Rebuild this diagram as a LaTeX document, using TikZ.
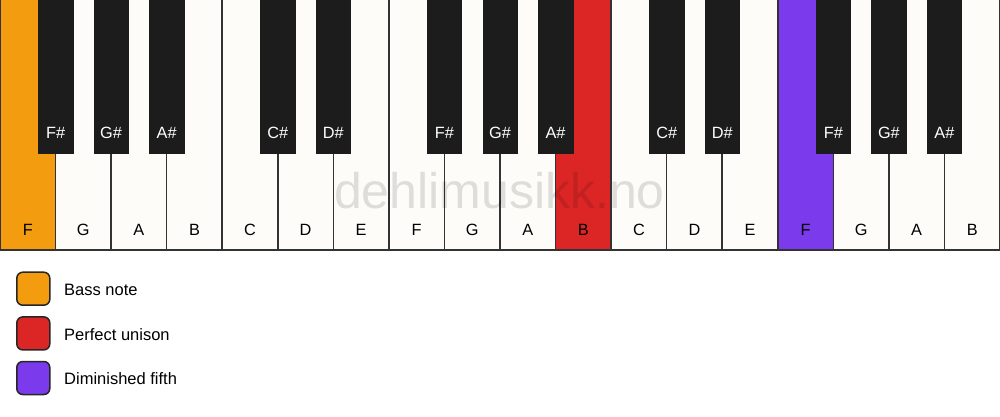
\documentclass[tikz,border=0pt]{standalone}
\usepackage{fontspec}
\setmainfont{Liberation Sans}
\definecolor{keyborder}{HTML}{333333}
\definecolor{whitekey}{HTML}{FDFCF9}
\definecolor{blackkey}{HTML}{1C1C1C}
\definecolor{bassc}{HTML}{F39C0F}
\definecolor{unisonc}{HTML}{DC2626}
\definecolor{fifthc}{HTML}{7C3AED}
\tikzset{
  wkey/.style={draw=keyborder, line width=1.5pt, fill=whitekey},
  bkey/.style={fill=blackkey, draw=blackkey, line width=0.5pt},
  wlabel/.style={font=\fontsize{16.3}{18}\selectfont, text=black, anchor=center},
  blabel/.style={font=\fontsize{16.3}{18}\selectfont, text=white, anchor=center},
  legbox/.style={draw=black!85, line width=1.5pt, rounded corners=6pt, minimum width=33pt, minimum height=33pt, inner sep=0pt},
  legtext/.style={font=\fontsize{16.5}{18}\selectfont, anchor=west, inner sep=0pt},
}
\begin{document}
\begin{tikzpicture}[x=1pt,y=-1pt]
\useasboundingbox (0,0) rectangle (1000,417);
\fill[white] (0,0) rectangle (1000,417);
% white keys
\def\kw{55.5556}
\foreach \n/\c [count=\i from 0] in {F/bassc,G/whitekey,A/whitekey,B/whitekey,C/whitekey,D/whitekey,E/whitekey,F/whitekey,G/whitekey,A/whitekey,B/unisonc,C/whitekey,D/whitekey,E/whitekey,F/fifthc,G/whitekey,A/whitekey,B/whitekey}{
  \path[wkey, fill=\c] ({\i*\kw},-1) rectangle ({(\i+1)*\kw},250);
  \node[wlabel] (w\i) at ({(\i+0.5)*\kw},230) {\n};
}
% black keys
\foreach \b/\n in {1/F\#,2/G\#,3/A\#,5/C\#,6/D\#,8/F\#,9/G\#,10/A\#,12/C\#,13/D\#,15/F\#,16/G\#,17/A\#}{
  \path[bkey] ({\b*\kw-17.2},-1) rectangle ({\b*\kw+17.2},153);
  \node[blabel] (b\b) at ({\b*\kw},133) {\n};
}
% watermark
\node[font=\fontsize{50}{55}\selectfont, text=black, text opacity=0.12, anchor=base, inner sep=0pt] (wm) at (499.5,208) {dehlimusikk.no};
% legend
\node[legbox, fill=bassc] (l1) at (33.3,288.7) {};
\node[legbox, fill=unisonc] (l2) at (33.3,333.4) {};
\node[legbox, fill=fifthc] (l3) at (33.3,378) {};
\node[legtext] (t1) at (64,290) {Bass note};
\node[legtext] (t2) at (64,334.5) {Perfect unison};
\node[legtext] (t3) at (64,379) {Diminished fifth};
\end{tikzpicture}
\end{document}
